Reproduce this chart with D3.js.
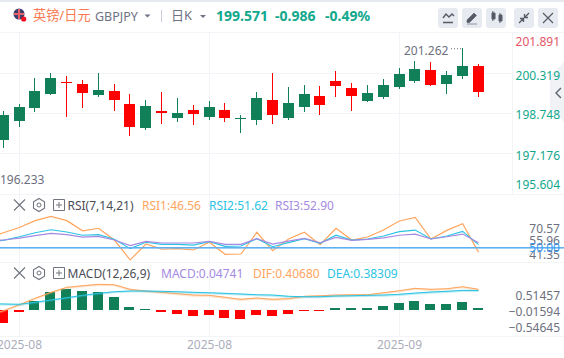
<!DOCTYPE html>
<html><head><meta charset="utf-8">
<script src="https://cdn.jsdelivr.net/npm/d3@7/dist/d3.min.js"></script>
<style>
html,body{margin:0;padding:0;background:#fff;overflow:hidden}
svg{display:block}
text{font-family:"Noto Sans","Noto Sans CJK SC",sans-serif;font-size:12px}
</style></head><body><svg id="c" width="564" height="358"></svg>
<script>
const opens=[197.701,198.438,198.943,199.486,199.951,199.874,199.447,199.602,199.098,198.167,198.826,198.555,198.865,198.593,198.865,198.516,198.477,199.253,198.555,198.981,199.408,199.990,199.718,199.214,199.369,199.757,199.990,200.417,199.874,200.184,200.572];
const closes=[198.671,198.981,199.602,200.107,199.912,199.525,199.641,199.253,198.205,199.020,198.749,198.749,198.710,198.981,198.555,198.555,199.331,198.671,199.136,199.486,199.059,199.796,199.408,199.525,199.835,200.262,200.456,199.835,200.223,200.572,199.571];
const highs=[198.826,199.098,200.107,200.301,200.184,200.029,200.301,199.874,199.486,199.253,199.563,199.331,199.059,199.214,199.136,198.671,199.563,200.301,199.757,199.835,199.796,200.378,199.912,199.835,200.068,200.495,200.766,200.727,200.378,201.262,200.650];
const lows=[197.391,198.205,198.787,199.447,198.593,198.943,199.369,198.826,197.857,198.089,198.322,198.399,198.283,198.477,198.399,197.973,198.283,198.322,198.477,198.787,198.671,199.369,198.826,199.175,199.292,199.679,199.912,199.796,199.486,200.068,199.369];
// indicator series carry one extra leading point for the bar just left of the view
const rsi1=[56.0,59.6,63.1,67.7,70.57,67.7,60.9,62.6,54.7,41.35,52.0,48.5,48.9,48.0,53.2,45.1,45.3,59.9,47.5,55.4,59.9,51.5,62.6,54.7,56.7,61.4,67.5,69.9,55.4,61.2,65.6,46.56];
const rsi2=[53.4,54.5,56.9,59.6,61.6,60.1,57.9,58.3,55.2,48.9,53.2,51.8,51.8,51.3,53.6,50.5,50.7,55.6,50.2,52.9,55.6,52.5,57.9,54.7,55.4,57.4,60.3,61.4,55.4,57.4,60.5,51.62];
const rsi3=[54.2,54.7,56.0,57.6,59.2,58.3,56.7,57.2,54.7,50.9,53.8,52.7,52.7,52.7,53.8,51.8,51.8,55.6,52.0,54.0,55.8,52.9,56.5,54.5,55.2,56.2,57.9,58.7,55.4,56.9,58.7,52.90];
const macdBars=[-0.255,-0.039,0.176,0.353,0.412,0.373,0.353,0.255,0.059,0.020,-0.039,-0.078,-0.118,-0.098,-0.157,-0.176,-0.098,-0.118,-0.078,-0.025,-0.029,0.039,0.039,0.039,0.078,0.137,0.176,0.118,0.118,0.157,0.04741];
const dif=[-0.110,-0.014,0.104,0.229,0.347,0.445,0.476,0.504,0.496,0.406,0.373,0.347,0.320,0.294,0.288,0.249,0.210,0.235,0.210,0.222,0.269,0.280,0.294,0.300,0.300,0.339,0.378,0.425,0.406,0.418,0.457,0.4068];
const dea=[0.125,0.118,0.112,0.151,0.196,0.241,0.288,0.327,0.359,0.373,0.373,0.367,0.359,0.347,0.339,0.327,0.314,0.300,0.294,0.269,0.261,0.261,0.275,0.280,0.288,0.294,0.308,0.333,0.353,0.367,0.386,0.38309];
const priceTicks=[201.891,200.319,198.748,197.176,195.604];
const rsiLabels=[70.57,55.96,50.00,41.35];
const macdLabels=[0.51457,-0.01594,-0.54645];
const dateTicks=[1,13,25];
const dateLabels=["2025-08","2025-08","2025-09"];

const W=564,GREEN="#118058",RED="#ff0000",GRID="#f3f4f8",ORANGE="#ffa55e",CYAN="#2cc3e2",PURPLE="#a58ae2",UP="#12a88c",AXC="#6d7080";
const svg=d3.select("#c");
const x=d3.scaleLinear().domain([0,30]).range([3.2,478.2]);
const px=i=>Math.floor(x(i));
const y=d3.scaleLinear().domain([201.891,195.604]).range([32,194]);
const yRsi=d3.scaleLinear().domain([70.57,41.35]).range([216.4,259.9]);
const yRsiLabel=d3.scaleLinear().domain([70.57,41.35]).range([228,254]);
const yMacd=d3.scaleLinear().domain([0,0.4068]).range([310,289.3]);
const yMacdLabel=d3.scaleLinear().domain([0.51457,-0.54645]).range([295.3,327.3]);

// chrome
svg.append("rect").attr("width",W).attr("height",2).attr("fill","#e6e9ee");
[[0,W,32],[0,W,194],[0,W,262],[0,W,336]].forEach(d=>svg.append("rect").attr("x",d[0]).attr("y",d[2]).attr("width",d[1]).attr("height",1).attr("fill",GRID));
priceTicks.slice(1,4).forEach(t=>svg.append("rect").attr("x",0).attr("width",512).attr("y",Math.round(y(t))).attr("height",1).attr("fill",GRID));
dateTicks.forEach(i=>svg.append("rect").attr("x",px(i)).attr("y",32).attr("width",1).attr("height",304).attr("fill",GRID));
svg.append("rect").attr("x",512).attr("y",32).attr("width",1).attr("height",162).attr("fill",GRID);

// header
const flag=svg.append("g");
flag.append("circle").attr("cx",19).attr("cy",14).attr("r",5.5).attr("fill","#3a3f6b");
flag.append("path").attr("d","M14 14H24M19 9V19").attr("stroke","#e8606a").attr("stroke-width",2);
flag.append("circle").attr("cx",23.7).attr("cy",19).attr("r",2.6).attr("fill","#f01020");
const T=(s,xx,yy,c,o={})=>svg.append("text").attr("x",xx).attr("y",yy).attr("fill",c).attr("dominant-baseline","central").style("font-size",(o.size||12)+"px").style("font-weight",o.weight||400).attr("text-anchor",o.anchor||"start").text(s);
T("英镑/日元",33,15,"#f87a50",{size:13.2});
T("GBPJPY",95,16.5,"#6d7285",{size:12.5});
svg.append("path").attr("d","M144.5 14.5h6l-3 3z").attr("fill","#6d7285");
svg.append("rect").attr("x",161).attr("y",10).attr("width",1).attr("height",12).attr("fill","#c9ccd6");
T("日K",171,15,"#6d7285",{size:13});
svg.append("path").attr("d","M200 15h6l-3 3z").attr("fill","#6d7285");
T("199.571",216,15.5,UP,{size:14,weight:700});
T("-0.986",275,15.5,UP,{size:14,weight:700});
T("-0.49%",325,15.5,UP,{size:14,weight:700});
[438,462,486,514,538].forEach(b=>svg.append("rect").attr("x",b).attr("y",8).attr("width",20).attr("height",20).attr("rx",3).attr("fill","#e8eaf1"));
const ic="#555a66";
svg.append("path").attr("d","M443 18l3-4 3 3 3-3 2 2M443 22.5h10").attr("fill","none").attr("stroke",ic).attr("stroke-width",1.4);
svg.append("path").attr("d","M467 20l7-7 2.5 2.5-7 7H467zM467 24h10").attr("fill",ic).attr("stroke",ic).attr("stroke-width",.6);
svg.append("path").attr("d","M492 13h3v6h-3zM492.8 11v10M499 15h3v6h-3zM500 13v10").attr("fill",ic).attr("stroke",ic).attr("stroke-width",1);
svg.append("path").attr("d","M519 23l4-4M529 13l-4 4M520 18.5h3.5V22M528 17.5h-3.5V14").attr("fill","none").attr("stroke",ic).attr("stroke-width",1.3);
svg.append("path").attr("d","M543 13l10 10M553 13l-10 10").attr("stroke",ic).attr("stroke-width",1.2);
// side tab
svg.append("path").attr("d","M564 62L550 76V108L564 122Z").attr("fill","#f1f2f5");
svg.append("path").attr("d","M561 88l-5 5 5 5").attr("fill","none").attr("stroke","#666b78").attr("stroke-width",1.5);

// candles
const idx=d3.range(opens.length);
const col=i=>closes[i]>=opens[i]?GREEN:RED;
const cg=svg.append("g");
cg.selectAll("rect.w").data(idx).join("rect").attr("class","w").attr("x",i=>px(i)).attr("width",1)
 .attr("y",i=>Math.round(y(highs[i]))).attr("height",i=>Math.round(y(lows[i]))-Math.round(y(highs[i]))).attr("fill",col);
cg.selectAll("rect.b").data(idx).join("rect").attr("class","b").attr("x",i=>px(i)-5).attr("width",11)
 .attr("y",i=>Math.round(y(Math.max(opens[i],closes[i]))))
 .attr("height",i=>Math.max(1,Math.round(y(Math.min(opens[i],closes[i])))-Math.round(y(Math.max(opens[i],closes[i])))))
 .attr("fill",col);

// high / low labels
const hiI=d3.maxIndex(highs);
T(d3.format(".3f")(highs[hiI]),404,50.5,AXC,{size:12});
svg.append("line").attr("x1",451).attr("x2",px(hiI)).attr("y1",y(highs[hiI])+.5).attr("y2",y(highs[hiI])+.5).attr("stroke",AXC).attr("stroke-dasharray","1 2");
T("196.233",0,179.5,AXC,{size:12});

// price axis
const pa=svg.append("g").attr("transform","translate(560,0)").call(d3.axisLeft(y).tickValues(priceTicks).tickFormat(d3.format(".3f")).tickSize(0));
pa.select(".domain").remove();
pa.selectAll("text").attr("x",0).attr("dy",null).attr("dominant-baseline","central")
 .attr("fill",(d,i)=>i==0?"#e25666":UP)
 .attr("y",(d,i)=>[9,2,1,1.5,-10][i]);

// RSI
const xl=i=>x(i-1)+.3;
const lineOf=ys=>d3.line().x((d,i)=>xl(i)).y(d=>ys(d));
[[rsi1,ORANGE],[rsi2,CYAN],[rsi3,PURPLE]].forEach(s=>svg.append("path").attr("d",lineOf(yRsi)(s[0])).attr("fill","none").attr("stroke",s[1]).attr("stroke-width",1.2));
svg.append("rect").attr("x",0).attr("width",W).attr("y",Math.round(yRsi(50))).attr("height",1.6).attr("fill","#63b0f1");
const ra=svg.append("g").attr("transform","translate(560,0)").call(d3.axisLeft(yRsiLabel).tickValues(rsiLabels).tickFormat(d3.format(".2f")).tickSize(0));
ra.select(".domain").remove();
ra.selectAll("text").attr("x",0).attr("dy",null).attr("dominant-baseline","central").attr("fill",d=>d==50?"#3b9cf2":AXC)
 .attr("y",d=>d==50?1:d==55.96?-1:0);
ra.selectAll(".tick").sort((a,b)=>(a==50)-(b==50));

// MACD
svg.selectAll("rect.m").data(macdBars).join("rect").attr("class","m").attr("x",(d,i)=>px(i)-5).attr("width",10)
 .attr("y",d=>Math.round(Math.min(yMacd(d),yMacd(0)))).attr("height",d=>Math.max(1,Math.round(Math.abs(yMacd(d)-yMacd(0)))))
 .attr("fill",d=>d>=0?GREEN:RED);
[[dif,ORANGE],[dea,CYAN]].forEach(s=>{
 svg.append("path").attr("d",lineOf(yMacd)(s[0])).attr("fill","none").attr("stroke",s[1]).attr("stroke-width",2.2).attr("stroke-opacity",.3).attr("transform","translate(0,.5)");
 svg.append("path").attr("d",lineOf(yMacd)(s[0])).attr("fill","none").attr("stroke",s[1]).attr("stroke-width",1);
});
const ma=svg.append("g").attr("transform","translate(560,0)").call(d3.axisLeft(yMacdLabel).tickValues(macdLabels).tickFormat(d3.format(".5f")).tickSize(0));
ma.select(".domain").remove();
ma.selectAll("text").attr("x",0).attr("dy",null).attr("dominant-baseline","central").attr("fill",AXC);

// date axis
const xa=svg.append("g").attr("transform","translate(0,337)").call(d3.axisBottom(x).tickValues(dateTicks).tickFormat((d,i)=>dateLabels[i]).tickSize(0));
xa.select(".domain").remove();
xa.selectAll("text").attr("y",0).attr("dy",null).attr("dominant-baseline","central").attr("transform","translate(0,7.5)").attr("fill","#abadbb");

// indicator legends
function legendIcons(cy){
 svg.append("path").attr("d",`M14 ${cy-5.5}l11 11M25 ${cy-5.5}l-11 11`).attr("stroke","#70747f").attr("stroke-width",1.1);
 svg.append("path").attr("d",`M39 ${cy-6.5}l5.5 3.2v6.6l-5.5 3.2-5.5-3.2v-6.6z`).attr("fill","none").attr("stroke","#70747f").attr("stroke-width",1.1);
 svg.append("circle").attr("cx",39).attr("cy",cy).attr("r",2).attr("fill","none").attr("stroke","#70747f");
 svg.append("path").attr("d",`M53.5 ${cy-5.5}h11v11h-11zM59 ${cy-3}v6M56 ${cy}h6`).attr("fill","none").attr("stroke","#70747f").attr("stroke-width",1);
}
legendIcons(205);
T("RSI(7,14,21)",67.5,205.5,"#4a4d57");
T("RSI1:46.56",142,205.5,ORANGE);
T("RSI2:51.62",209,205.5,CYAN);
T("RSI3:52.90",275,205.5,PURPLE);
legendIcons(273);
T("MACD(12,26,9)",67.5,273.5,"#4a4d57");
T("MACD:0.04741",161,273.5,PURPLE);
T("DIF:0.40680",253,273.5,ORANGE);
T("DEA:0.38309",327,273.5,CYAN);
</script></body></html>
